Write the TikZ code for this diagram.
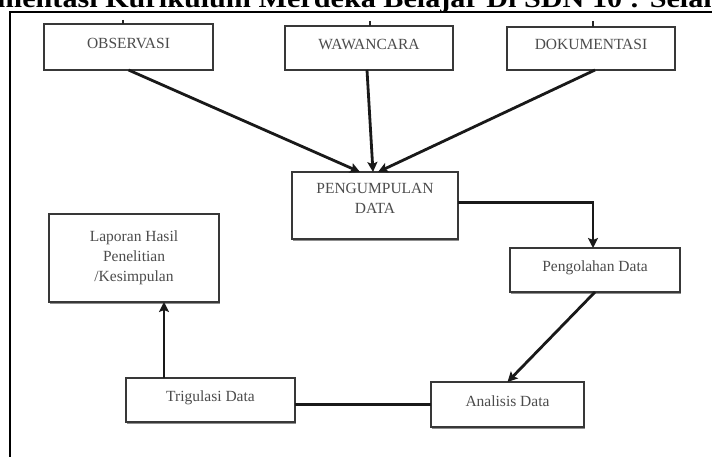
\documentclass[tikz,border=0pt]{standalone}
\usepackage{fontspec}
\setmainfont{Liberation Serif}
\usetikzlibrary{arrows.meta,shadows,calc}
\begin{document}
\begin{tikzpicture}[x=1pt,y=-1pt,
  box/.style={draw=black!78, line width=2pt, fill=white, inner sep=0pt, outer sep=0pt,
    font=\fontsize{15.5}{20}\selectfont, text=black!70, align=center,
    drop shadow={shadow xshift=1.2pt, shadow yshift=-1.5pt, fill=black!55, opacity=0.8}},
  onel/.style={text height=11pt, text depth=8pt},
  conn/.style={line width=2.8pt, black!90},
  arr/.style={conn, -{Stealth[length=10pt,width=10pt,inset=2pt]}},
  stub/.style={line width=2pt, black!85},
  frameline/.style={line width=1.5pt, black}]
\useasboundingbox (0,0) rectangle (712,457);
\begin{scope}
\clip (0,0) rectangle (712,457);
\node[anchor=base west, inner sep=0pt, font=\bfseries\fontsize{26}{26}\selectfont] (title) at (-3,8)
  {\scalebox{1.16}[1]{mentasi Kurikulum Merdeka Belajar Di SDN 10 : Selam}};
\coordinate (f1) at (10,12);
\coordinate (f2) at (712,12);
\coordinate (f3) at (10,457);
\draw[frameline] (f2) -- (f1) -- (f3);
\end{scope}

\node[box, onel, minimum width=169pt, minimum height=46pt] (obs) at (128.5,47) {OBSERVASI};
\node[box, onel, minimum width=168pt, minimum height=44pt] (waw) at (369,48) {WAWANCARA};
\node[box, onel, minimum width=168pt, minimum height=43pt] (dok) at (591,48.5) {DOKUMENTASI};
\node[box, minimum width=166pt, minimum height=67pt] (pen) at (375,205.5) {PENGUMPULAN\\DATA\rule[-15pt]{0pt}{15pt}};
\node[box, onel, minimum width=170pt, minimum height=44pt] (olah) at (595,270) {Pengolahan Data};
\node[box, onel, minimum width=153pt, minimum height=45pt] (ana) at (507.5,404.5) {Analisis Data};
\node[box, onel, minimum width=169pt, minimum height=44pt] (tri) at (210.5,400) {Trigulasi Data};
\node[box, minimum width=170pt, minimum height=88pt] (lap) at (134,258) {Laporan Hasil\\Penelitian\\/Kesimpulan};

\coordinate (s1) at (123,20);
\coordinate (s2) at (370,21);
\coordinate (s3) at (593,21);
\draw[stub] (s1) -- (s1 |- obs.north);
\draw[stub] (s2) -- (s2 |- waw.north);
\draw[stub] (s3) -- (s3 |- dok.north);

\draw[arr] (obs.south) -- ([xshift=-15pt]pen.north);
\draw[arr] ([xshift=-2pt]waw.south) -- ([xshift=-2pt]pen.north);
\draw[arr] ([xshift=4pt]dok.south) -- ([xshift=3pt]pen.north);
\draw[arr] ([yshift=3pt]pen.east) -| ([xshift=-2pt]olah.north);
\draw[arr] (olah.south) -- (ana.north);
\draw[conn] (ana.west) -- (ana.west -| tri.east);
\draw[arr] ([xshift=-46.5pt]tri.north) -- ([xshift=30pt]lap.south);
\end{tikzpicture}
\end{document}
